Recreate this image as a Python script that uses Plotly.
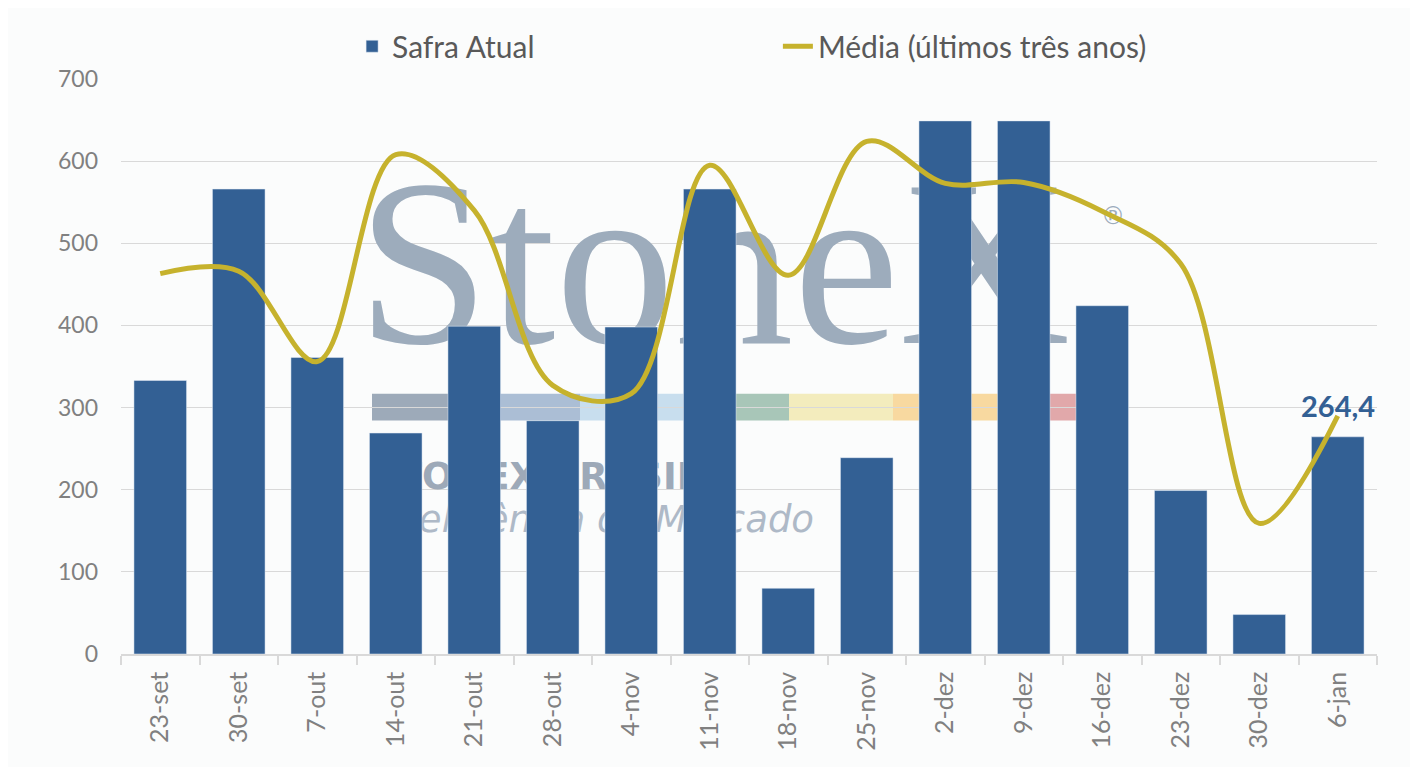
import plotly.graph_objects as go

# ---------------- data ----------------
categories = ["23-set", "30-set", "7-out", "14-out", "21-out", "28-out", "4-nov", "11-nov",
              "18-nov", "25-nov", "2-dez", "9-dez", "16-dez", "23-dez", "30-dez", "6-jan"]
safra_atual = [333, 566, 361, 269, 399, 284, 398, 566, 80, 239, 649, 649, 424, 199, 48, 264.4]
media_3anos = [463, 466, 356, 608, 540, 327, 317, 595, 461, 624, 573, 574, 539, 475, 159, 290]

series_names = ["Safra Atual", "Média (últimos três anos)"]

# ---------------- style ----------------
BAR_COLOR = "#336094"
LINE_COLOR = "#C6B22D"
BG = "#FBFCFC"
GRID = "#D9D9D9"
TICK = "#808080"
WM = "#9DACBC"
FONT = "Lato"

# page body has an 8px margin, so the figure is 8px smaller than the window
W, H = 1410, 759
L, R, T, B = 113, 41, 65, 113
PX0, PX1, PY0, PY1 = 121, 1377, 654, 73   # screen pixel extent of the plot area

fig = go.Figure()

# ---------- watermark (base subplot, drawn beneath the data) ----------
fig.add_trace(go.Scatter(
    x=[357], y=[280], mode="text", text=["StoneX"], textposition="middle right",
    textfont=dict(family="Liberation Serif", size=238, color=WM),
    hoverinfo="skip", showlegend=False, xaxis="x", yaxis="y"))
fig.add_trace(go.Scatter(
    x=[1113], y=[213], mode="text", text=["®"], textposition="middle center",
    textfont=dict(family="DejaVu Sans", size=24, color=WM),
    hoverinfo="skip", showlegend=False, xaxis="x", yaxis="y"))
fig.add_trace(go.Scatter(
    x=[370], y=[478], mode="text", text=["STONEX BRASIL"], textposition="middle right",
    textfont=dict(family="DejaVu Sans", size=37, color="#9DA9B8", weight="bold"),
    hoverinfo="skip", showlegend=False, xaxis="x", yaxis="y"))
fig.add_trace(go.Scatter(
    x=[370], y=[521], mode="text", text=["Inteligência de Mercado"], textposition="middle right",
    textfont=dict(family="DejaVu Sans", size=37, color="#AEB9C7", style="italic"),
    hoverinfo="skip", showlegend=False, xaxis="x", yaxis="y"))

strip = [(372, 474, "#9DAAB9"), (474, 580, "#ABBED5"), (580, 736, "#C8DEEE"),
         (736, 789, "#A8C6B8"), (789, 893, "#F3ECBD"), (893, 998, "#F8D9A0"),
         (998, 1076, "#E1A8AA")]
shapes = []
for x0, x1, c in strip:
    shapes.append(dict(type="rect", xref="x", yref="y", x0=x0, x1=x1, y0=391, y1=418,
                       fillcolor=c, line=dict(width=0), layer="below"))

# ---------- data (overlay subplot) ----------
fig.add_trace(go.Bar(
    x=categories, y=safra_atual, name=series_names[0], marker_color=BAR_COLOR,
    xaxis="x2", yaxis="y2", legend="legend"))
fig.add_trace(go.Scatter(
    x=categories, y=media_3anos, name=series_names[1], mode="lines",
    line=dict(color=LINE_COLOR, width=5, shape="spline", smoothing=1.0),
    xaxis="x2", yaxis="y2", legend="legend2"))

last_label = f"{safra_atual[-1]:.1f}".replace(".", ",")
annotations = [dict(x=categories[-1], y=safra_atual[-1], xref="x2", yref="y2",
                    text=f"<b>{last_label}</b>", showarrow=False,
                    yanchor="bottom", xanchor="center", yshift=12,
                    font=dict(family=FONT, size=29, color=BAR_COLOR))]

fig.update_layout(
    width=W, height=H,
    margin=dict(l=L, r=R, t=T, b=B),
    paper_bgcolor=BG, plot_bgcolor=BG,
    separators=",.",
    bargap=0.33,
    shapes=shapes,
    annotations=annotations,
    font=dict(family=FONT, color=TICK),
    xaxis=dict(range=[PX0, PX1], visible=False, fixedrange=True),
    yaxis=dict(range=[PY0, PY1], visible=False, fixedrange=True),
    xaxis2=dict(overlaying="x", anchor="y2", type="category",
                showline=True, linecolor=GRID, linewidth=1.5,
                ticks="outside", tickson="boundaries", ticklen=9, tickcolor=GRID, tickwidth=1.5,
                tickangle=-90, tickfont=dict(size=25, color=TICK, family=FONT),
                ticklabelstandoff=6, showgrid=False),
    yaxis2=dict(overlaying="y", anchor="x2", range=[0, 700], dtick=100,
                showgrid=True, gridcolor=GRID, gridwidth=1.3, zeroline=False,
                showline=False, ticks="", ticklabelstandoff=22,
                tickfont=dict(size=23, color=TICK, family=FONT)),
    legend=dict(orientation="h", x=0.184, xanchor="left", y=1.057, yanchor="middle",
                font=dict(size=30, color="#595959", family=FONT), bgcolor="rgba(0,0,0,0)"),
    legend2=dict(orientation="h", x=0.523, xanchor="left", y=1.057, yanchor="middle",
                 font=dict(size=30, color="#595959", family=FONT), bgcolor="rgba(0,0,0,0)"),
    showlegend=True,
)

fig.write_html("out.html")
